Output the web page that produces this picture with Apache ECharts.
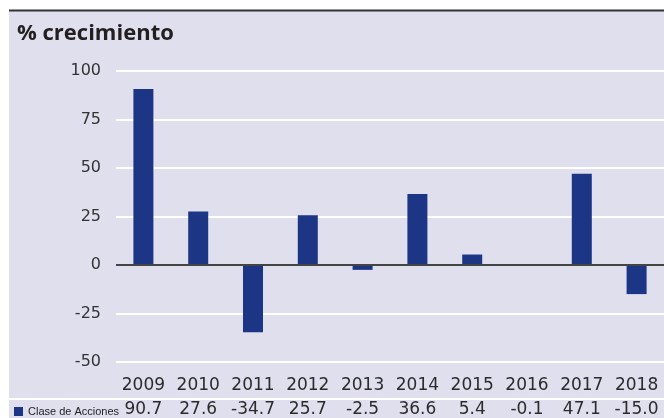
<!DOCTYPE html>
<html>
<head>
<meta charset="utf-8">
<script src="https://cdn.jsdelivr.net/npm/echarts@6/dist/echarts.min.js"></script>
<style>
  html, body { margin: 0; padding: 0; background: #fff; }
  #chart { width: 664px; height: 418px; }
</style>
</head>
<body>
<div id="chart"></div>
<script>
const years = ['2009', '2010', '2011', '2012', '2013', '2014', '2015', '2016', '2017', '2018']
const values = [90.7, 27.6, -34.7, 25.7, -2.5, 36.6, 5.4, -0.1, 47.1, -15.0]
const seriesName = 'Clase de Acciones'

const numFont = 'DejaVu Sans'
const chart = echarts.init(document.getElementById('chart'))

chart.setOption({
  animation: false,
  backgroundColor: '#ffffff',
  graphic: [
    { type: 'rect', z: -10, shape: { x: 9, y: 11, width: 655, height: 407 }, style: { fill: '#dfdfee' } },
    { type: 'line', z: 5, shape: { x1: 9, y1: 10.5, x2: 664, y2: 10.5 }, style: { stroke: '#333333', lineWidth: 2 } },
    { type: 'line', z: 5, shape: { x1: 9, y1: 399, x2: 664, y2: 399 }, style: { stroke: '#ffffff', lineWidth: 2 } }
  ],
  title: {
    text: '% crecimiento',
    left: 12,
    top: 18,
    textStyle: { fontFamily: 'Open Sans', fontWeight: 'bold', fontSize: 22, color: '#231f20' }
  },
  legend: {
    left: 9,
    top: 401,
    icon: 'rect',
    itemWidth: 9,
    itemHeight: 9,
    itemGap: 4,
    textStyle: { fontFamily: 'Liberation Sans', fontSize: 11, color: '#222' },
    data: [seriesName]
  },
  grid: { left: 116, right: 0, top: 71, bottom: 56, outerBoundsMode: 'none' },
  xAxis: [
    {
      type: 'category',
      data: years,
      axisLine: { show: false, onZero: false },
      axisTick: { show: false },
      axisLabel: { interval: 0, margin: 15, fontFamily: numFont, fontSize: 17, color: '#2b2b2b' }
    },
    {
      type: 'category',
      position: 'bottom',
      offset: 24,
      data: values.map(v => v.toFixed(1)),
      axisLine: { show: false, onZero: false },
      axisTick: { show: false },
      axisLabel: { interval: 0, margin: 15, fontFamily: numFont, fontSize: 17, color: '#2b2b2b' }
    }
  ],
  yAxis: {
    type: 'value',
    min: -50,
    max: 100,
    interval: 25,
    axisLine: { show: false },
    axisTick: { show: false },
    axisLabel: { margin: 15, fontFamily: numFont, fontSize: 16, color: '#333' },
    splitLine: { lineStyle: { color: '#ffffff', width: 2 } }
  },
  series: [
    {
      name: seriesName,
      type: 'bar',
      data: values,
      barWidth: 20,
      itemStyle: { color: '#1c3585' },
      markLine: {
        silent: true,
        symbol: 'none',
        label: { show: false },
        lineStyle: { color: '#444444', width: 2, type: 'solid' },
        data: [{ yAxis: 0 }]
      }
    }
  ]
})
</script>
</body>
</html>
